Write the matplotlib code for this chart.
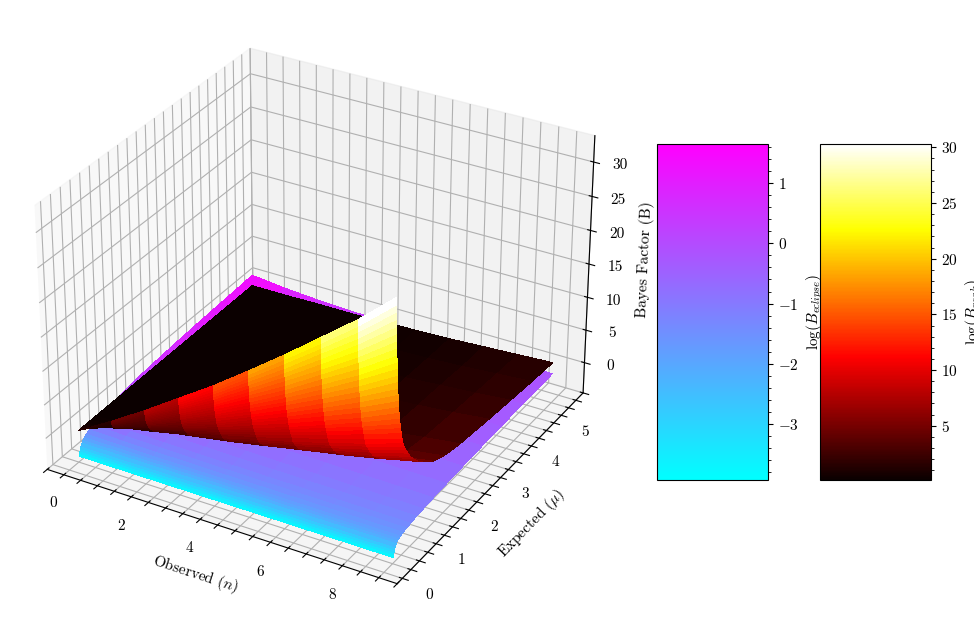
import numpy as np
import matplotlib
matplotlib.use("Agg")
import matplotlib.pyplot as plt

plt.rcParams['font.family'] = ['cmr10', 'DejaVu Sans']
plt.rcParams['mathtext.fontset'] = 'cm'
plt.rcParams['axes.formatter.use_mathtext'] = True
plt.rcParams['axes.unicode_minus'] = False

# Observed counts, one column per count
observed = [0, 1, 2, 3, 4, 5, 6, 7, 8, 9]

# Expected counts for the peak surface (log spaced near zero, where it climbs steeply)
peak_expected = [0.020, 0.0223, 0.0249, 0.0278, 0.0310, 0.0346, 0.0386, 0.0431, 0.0481, 0.0537,
                 0.0599, 0.0669, 0.0746, 0.0833, 0.0930, 0.1038, 0.1158, 0.1292, 0.1442, 0.1610,
                 0.1796, 0.2005, 0.2237, 0.25, 0.29, 0.34, 0.40, 0.47, 0.55, 0.70,
                 0.86, 1.17, 1.5, 2.0, 2.9, 3.6, 4.3, 5.0]

# log(B_peak): one row per expected value, one column per observed count
peak_log_bayes = [
    [0, 3.0, 6.2, 9.6, 13.0, 16.7, 20.5, 24.5, 28.5, 33.0],
    [0, 2.9, 6.0, 9.3, 12.6, 16.2, 19.9, 23.7, 27.6, 32.0],
    [0, 2.8, 5.8, 9.0, 12.2, 15.7, 19.3, 23.0, 26.8, 31.0],
    [0, 2.7, 5.6, 8.7, 11.8, 15.2, 18.6, 22.3, 25.9, 30.0],
    [0, 2.6, 5.5, 8.4, 11.4, 14.7, 18.0, 21.5, 25.1, 29.0],
    [0, 2.5, 5.3, 8.1, 11.0, 14.2, 17.4, 20.8, 24.2, 28.0],
    [0, 2.5, 5.1, 7.9, 10.6, 13.7, 16.8, 20.0, 23.3, 27.0],
    [0, 2.4, 4.9, 7.6, 10.2, 13.2, 16.1, 19.3, 22.5, 26.0],
    [0, 2.3, 4.7, 7.3, 9.9, 12.7, 15.5, 18.6, 21.6, 25.0],
    [0, 2.2, 4.5, 7.0, 9.5, 12.1, 14.9, 17.8, 20.7, 24.0],
    [0, 2.1, 4.3, 6.7, 9.1, 11.7, 14.3, 17.1, 20.0, 23.1],
    [0, 2.0, 4.2, 6.4, 8.7, 11.2, 13.7, 16.4, 19.1, 22.1],
    [0, 1.9, 4.0, 6.2, 8.4, 10.7, 13.2, 15.7, 18.3, 21.2],
    [0, 1.8, 3.8, 5.9, 8.0, 10.2, 12.5, 15.0, 17.5, 20.2],
    [0, 1.8, 3.6, 5.6, 7.6, 9.8, 12.0, 14.3, 16.7, 19.3],
    [0, 1.7, 3.5, 5.4, 7.2, 9.3, 11.4, 13.7, 15.9, 18.4],
    [0, 1.6, 3.3, 5.1, 6.9, 8.9, 10.9, 13.0, 15.1, 17.5],
    [0, 1.5, 3.1, 4.8, 6.5, 8.4, 10.3, 12.3, 14.3, 16.6],
    [0, 1.4, 3.0, 4.6, 6.2, 7.9, 9.7, 11.6, 13.6, 15.7],
    [0, 1.4, 2.8, 4.3, 5.9, 7.5, 9.3, 11.1, 12.9, 14.9],
    [0, 1.3, 2.7, 4.1, 5.6, 7.2, 8.8, 10.5, 12.3, 14.2],
    [0, 1.2, 2.5, 3.9, 5.2, 6.7, 8.3, 9.9, 11.6, 13.4],
    [0, 1.1, 2.3, 3.6, 4.9, 6.2, 7.7, 9.2, 10.8, 12.5],
    [0, 1.0, 2.0, 3.2, 4.3, 5.7, 7.0, 8.5, 10.0, 11.7],
    [0, 0.9, 1.8, 2.9, 4.0, 5.2, 6.5, 7.9, 9.4, 11.0],
    [0, 0.8, 1.6, 2.6, 3.6, 4.7, 6.0, 7.3, 8.7, 10.3],
    [0, 0.6, 1.4, 2.2, 3.1, 4.2, 5.3, 6.6, 8.0, 9.5],
    [0, 0.5, 1.2, 1.9, 2.7, 3.7, 4.8, 6.0, 7.2, 8.7],
    [0, 0.4, 1.0, 1.6, 2.4, 3.3, 4.3, 5.4, 6.6, 8.0],
    [0, 0.3, 0.8, 1.3, 1.9, 2.7, 3.5, 4.5, 5.6, 6.9],
    [0, 0.2, 0.6, 1.0, 1.5, 2.2, 3.0, 3.9, 4.8, 6.0],
    [0, 0.1, 0.4, 0.7, 1.1, 1.6, 2.2, 2.9, 3.7, 4.6],
    [0, 0.1, 0.2, 0.5, 0.8, 1.2, 1.7, 2.3, 3.0, 3.8],
    [0, 0.0, 0.1, 0.3, 0.5, 0.9, 1.3, 1.8, 2.5, 3.2],
    [0, 0.0, 0.1, 0.2, 0.4, 0.7, 1.1, 1.5, 2.0, 2.6],
    [0, 0.0, 0.1, 0.2, 0.4, 0.6, 0.9, 1.3, 1.7, 2.2],
    [0, 0.0, 0.1, 0.2, 0.3, 0.5, 0.7, 1.0, 1.4, 1.8],
    [0, 0.0, 0.1, 0.1, 0.3, 0.4, 0.6, 0.9, 1.2, 1.5],
]

# Expected counts for the eclipse surface
eclipse_expected = [0.02, 0.03, 0.04, 0.055, 0.075, 0.10, 0.13, 0.17, 0.22, 0.30, 0.40,
                    0.52, 0.70, 0.90, 1.2, 1.6, 2.1, 2.7, 3.3, 4.0, 4.5, 5.0]

# log(B_eclipse): one row per expected value, one column per observed count
eclipse_log_bayes = [
    [-3.90, -3.90, -3.90, -3.90, -3.90, -3.90, -3.90, -3.90, -3.90, -3.90],
    [-3.50, -3.50, -3.50, -3.50, -3.50, -3.50, -3.50, -3.50, -3.50, -3.50],
    [-3.20, -3.20, -3.20, -3.20, -3.20, -3.20, -3.20, -3.20, -3.20, -3.20],
    [-2.90, -2.90, -2.90, -2.90, -2.90, -2.90, -2.90, -2.90, -2.90, -2.90],
    [-2.60, -2.60, -2.60, -2.60, -2.60, -2.60, -2.60, -2.60, -2.60, -2.60],
    [-2.30, -2.30, -2.30, -2.30, -2.30, -2.30, -2.30, -2.30, -2.25, -2.25],
    [-2.04, -2.04, -2.04, -2.04, -2.04, -2.04, -2.05, -2.05, -2.05, -2.05],
    [-1.77, -1.81, -1.84, -1.85, -1.86, -1.87, -1.88, -1.89, -1.89, -1.90],
    [-1.51, -1.58, -1.63, -1.66, -1.68, -1.70, -1.72, -1.73, -1.74, -1.75],
    [-1.20, -1.32, -1.40, -1.45, -1.49, -1.52, -1.54, -1.56, -1.58, -1.60],
    [-0.92, -1.08, -1.19, -1.25, -1.30, -1.34, -1.38, -1.40, -1.43, -1.45],
    [-0.65, -0.86, -1.00, -1.08, -1.15, -1.21, -1.25, -1.29, -1.32, -1.35],
    [-0.36, -0.61, -0.78, -0.88, -0.96, -1.03, -1.08, -1.12, -1.17, -1.20],
    [-0.11, -0.41, -0.61, -0.72, -0.82, -0.90, -0.96, -1.01, -1.06, -1.10],
    [0.18, -0.16, -0.39, -0.52, -0.63, -0.72, -0.79, -0.85, -0.90, -0.95],
    [0.47, 0.09, -0.17, -0.32, -0.44, -0.55, -0.62, -0.69, -0.75, -0.80],
    [0.74, 0.32, 0.05, -0.12, -0.26, -0.37, -0.46, -0.52, -0.59, -0.65],
    [0.99, 0.54, 0.25, 0.07, -0.08, -0.20, -0.29, -0.37, -0.44, -0.50],
    [1.19, 0.71, 0.40, 0.20, 0.04, -0.08, -0.18, -0.26, -0.34, -0.40],
    [1.39, 0.88, 0.55, 0.34, 0.17, 0.04, -0.06, -0.15, -0.23, -0.30],
    [1.50, 0.98, 0.63, 0.42, 0.24, 0.10, 0.00, -0.09, -0.18, -0.25],
    [1.65, 1.10, 0.73, 0.50, 0.32, 0.17, 0.06, -0.03, -0.13, -0.20],
]

# Ranges covered by the two colour bars
peak_range = (0.13, 30.3)
eclipse_range = (-3.93, 1.65)

x_ticks = np.arange(-0.5, 9.51, 0.5)
x_labels = ['0' if t == 0 else str(int(t)) if (t % 2 == 0 and t >= 0) else '' for t in x_ticks]
y_ticks = np.arange(-0.25, 5.51, 0.25)
y_labels = [str(int(t)) if t % 1 == 0 and t >= 0 else '' for t in y_ticks]
z_ticks = [0, 5, 10, 15, 20, 25, 30]

fig = plt.figure(figsize=(9.74, 6.23), dpi=100)
ax = fig.add_axes([-0.01, 0.0, 0.66, 1.0], projection='3d', computed_zorder=False)

n_e, mu_e = np.meshgrid(observed, eclipse_expected)
eclipse = ax.plot_surface(n_e, mu_e, np.array(eclipse_log_bayes), cmap='cool',
                          vmin=eclipse_range[0], vmax=eclipse_range[1],
                          rstride=1, cstride=1, linewidth=0, antialiased=False, zorder=1)
n_p, mu_p = np.meshgrid(observed, peak_expected)
peak = ax.plot_surface(n_p, mu_p, np.array(peak_log_bayes), cmap='hot',
                       vmin=peak_range[0], vmax=peak_range[1],
                       rstride=1, cstride=1, linewidth=0, antialiased=False, zorder=2)

ax.set_xlim(-0.5, 9.5)
ax.set_ylim(-0.4, 5.45)
ax.set_zlim(-4.7, 33.8)
ax.set_xticks(x_ticks)
ax.set_xticklabels(x_labels, fontsize=11)
ax.set_yticks(y_ticks)
ax.set_yticklabels(y_labels, fontsize=11)
ax.set_zticks(z_ticks)
ax.set_zticklabels([str(t) for t in z_ticks], fontsize=11)
ax.set_xlabel(r'Observed ($n$)', fontsize=11)
ax.set_ylabel(r'Expected ($\mu$)', fontsize=11)
ax.set_zlabel(r'Bayes Factor (B)', fontsize=11)

# Colour bars, eclipse on the left and peak on the right
cax_e = fig.add_axes([657 / 974, 1 - 480 / 623, 111 / 974, 336 / 623])
cb_e = fig.colorbar(eclipse, cax=cax_e)
cb_e.set_ticks([-3, -2, -1, 0, 1])
cb_e.ax.minorticks_on()
cb_e.ax.tick_params(labelsize=11)
cb_e.set_label(r'$\log(B_{eclipse})$', fontsize=11)

cax_p = fig.add_axes([820 / 974, 1 - 480 / 623, 111 / 974, 336 / 623])
cb_p = fig.colorbar(peak, cax=cax_p)
cb_p.set_ticks([5, 10, 15, 20, 25, 30])
cb_p.ax.minorticks_on()
cb_p.ax.tick_params(labelsize=11)
cb_p.set_label(r'$\log(B_{peak})$', fontsize=11)

fig.savefig('out.png', dpi=100)
